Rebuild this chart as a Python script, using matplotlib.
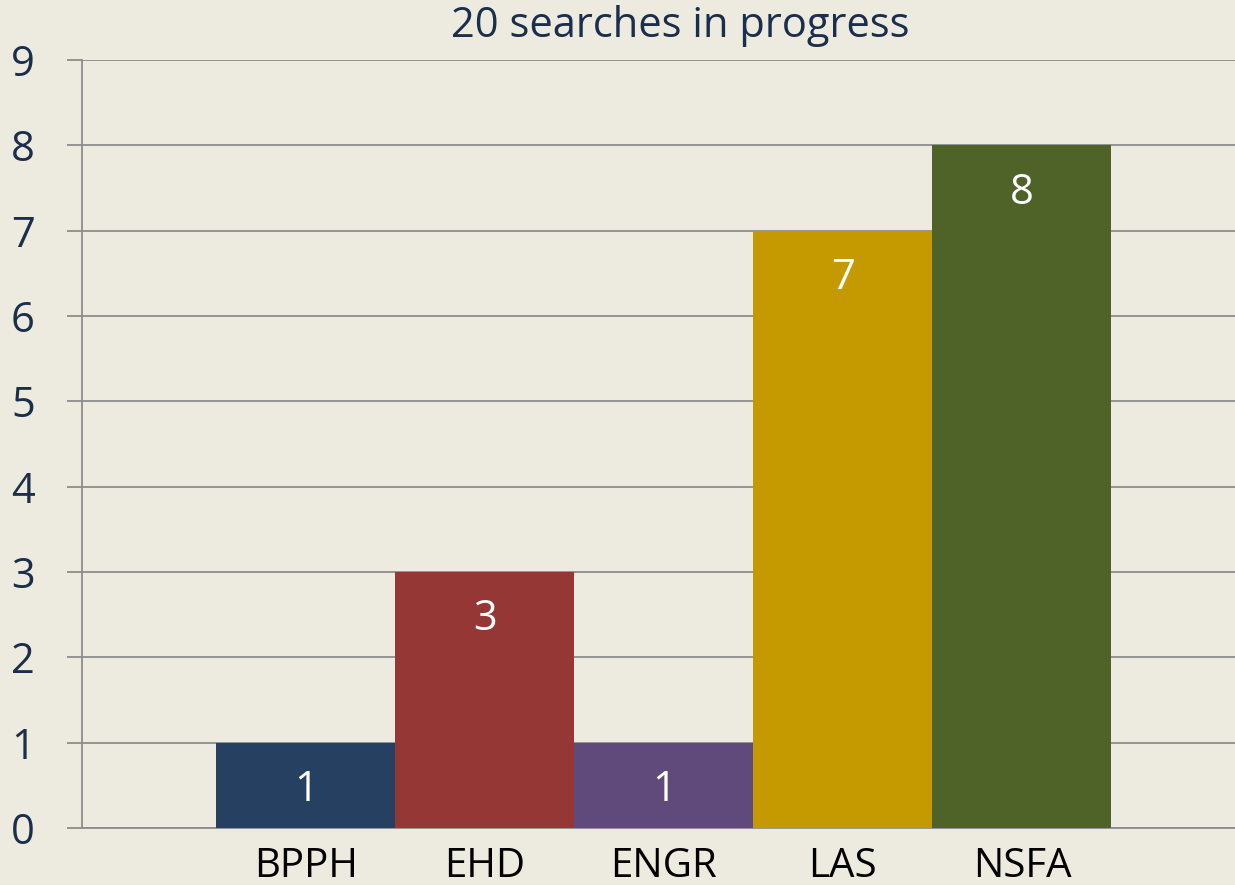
import matplotlib.pyplot as plt

# data
categories = ["BPPH", "EHD", "ENGR", "LAS", "NSFA"]
searches = [1, 3, 1, 7, 8]
bar_colors = ["#264061", "#953735", "#604A7B", "#C59900", "#4F6228"]
title = "20 searches in progress"

bg = "#EDEBE0"
navy = "#1B2E4B"
gray = "#8C8C8C"

plt.rcParams["font.family"] = ["Open Sans", "DejaVu Sans"]

fig = plt.figure(figsize=(12.35, 8.85), dpi=100, facecolor=bg)
ax = fig.add_axes([82 / 1235, 57 / 885, 1 - 82 / 1235, (828 - 60) / 885])
ax.set_facecolor(bg)

x = list(range(len(categories)))
ax.bar(x, searches, width=1.0, color=bar_colors, zorder=3)

# value labels sit a fixed distance below each bar top
for xi, v in zip(x, searches):
    ax.annotate(str(v), (xi, v), xytext=(0, -42), textcoords="offset points",
                ha="center", va="baseline", color="white", fontsize=30, zorder=4)

ax.set_xlim(-1.25, 5.19)
ax.set_ylim(0, 9)
ax.set_yticks(range(0, 10))
ax.set_xticks(x)
ax.set_xticklabels(categories)

ax.yaxis.grid(True, color=gray, linewidth=1.3, zorder=0)
ax.set_axisbelow(True)
for side in ["top", "right"]:
    ax.spines[side].set_visible(False)
for side in ["left", "bottom"]:
    ax.spines[side].set_color(gray)
    ax.spines[side].set_linewidth(1.3)

ax.tick_params(axis="y", length=11, width=1.3, color=gray, pad=23,
               labelsize=30, labelcolor=navy)
ax.tick_params(axis="x", length=0, pad=13, labelsize=29, labelcolor="black")

fig.text(680 / 1235, 1 - 26 / 885, title, ha="center", va="center",
         fontsize=30, color=navy)

fig.savefig("out.png", dpi=100, facecolor=bg)
